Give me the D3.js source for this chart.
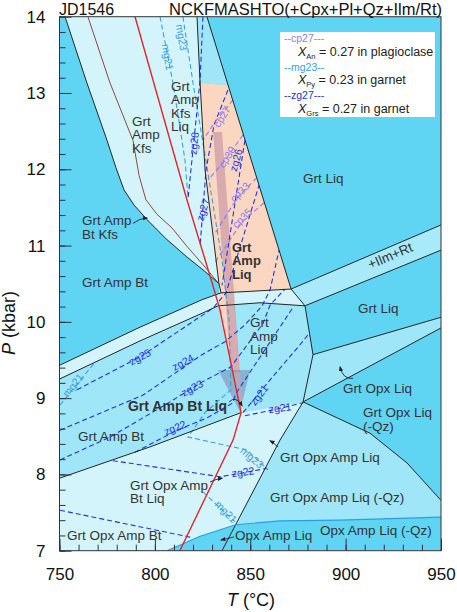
<!DOCTYPE html>
<html>
<head>
<meta charset="utf-8">
<script src="https://cdn.jsdelivr.net/npm/d3@7"></script>
<style>
  html, body { margin: 0; padding: 0; background: #fff; }
  svg { display: block; font-family: Arial, "Liberation Sans", sans-serif; }
</style>
</head>
<body>
<script>
// axis values
const tDomain = [750, 950]
const pDomain = [7, 14]
const tMajor = [750, 800, 850, 900, 950]
const pMajor = [7, 8, 9, 10, 11, 12, 13, 14]

// field polygons, [T (°C), P (kbar)]
const fieldKfs = [[752.9,14],[764.4,13.13],[774.9,12.38],[779.6,12.02],[783.8,11.73],[789.1,11.53],[795.9,11.34],[805.8,11.09],[816.8,10.85],[825.8,10.67],[833.6,10.50],[826.3,11.99],[823.7,13.13],[822.1,14]]
const fieldTopGap = [[822.1,14],[827.3,14],[838.3,13.10],[823.7,13.13]]
const fieldPeach = [[823.7,13.13],[838.3,13.10],[871.4,10.43],[849.9,10.40],[841.0,10.39],[846.2,8.83],[845.2,8.81],[834.1,10.16],[833.6,10.50],[826.3,11.99]]
const fieldStripL = [[750,9.43],[792.2,9.93],[824.7,10.29],[834.7,10.38],[849.9,10.40],[871.4,10.43],[878.7,10.21],[855.1,10.25],[833.1,10.21],[826.3,10.13],[792.2,9.75],[750,9.25]]
const fieldStripR = [[871.4,10.43],[950,11.27],[950,10.94],[878.7,10.21]]
const fieldAmpBt = [[750,9.25],[792.2,9.75],[826.3,10.13],[833.1,10.21],[855.1,10.25],[878.7,10.21],[882.9,9.57],[877.7,8.95],[845.2,8.81],[797.4,8.36],[750,7.95]]
const fieldOpxLow = [[750,7.95],[797.4,8.36],[845.2,8.81],[877.7,8.95],[865.6,8.45],[842.3,7.34],[823.7,7.19],[806.4,7.0],[750,7.0]]
const fieldOpxLiq = [[882.9,9.57],[950,10.06],[950,9.92],[877.7,8.95]]
const fieldOpxAmpQz = [[877.7,8.95],[912.8,8.54],[932.2,8.15],[950,7.66],[950,7.44],[897.1,7.40],[865.6,7.39],[842.3,7.34],[865.6,8.45]]

// P-T path band and arrow head
const ptBand = [[830.5,12.49],[835.2,12.49],[844.6,9.34],[839.9,9.34]]
const ptHead = [[833.1,9.37],[849.9,9.37],[844.6,8.82]]

// boundary lines
const lineK = [[752.9,14],[764.4,13.13],[774.9,12.38],[779.6,12.02],[783.8,11.73],[789.1,11.53],[795.9,11.34],[805.8,11.09],[816.8,10.85],[825.8,10.67],[833.6,10.50]]
const lineBrown = [[764.9,14],[776.5,13.13],[788.5,12.38],[791.7,11.92],[795.3,11.60],[801.1,11.41],[809.0,11.23],[816.8,10.99],[825.2,10.75],[833.6,10.50]]
const lineRed = [[789.6,14],[816.8,11.60],[829.9,10.52],[834.1,10.16],[845.2,8.81],[841.0,8.45],[813.1,7.0]]
const lineA = [[822.1,14],[823.7,13.13],[826.3,11.99],[833.6,10.50],[834.7,10.38]]
const lineB = [[827.3,14],[871.4,10.43]]
const lineC = [[750,9.43],[792.2,9.93],[824.7,10.29],[834.7,10.38],[849.9,10.40],[871.4,10.43],[950,11.27]]
const lineD = [[750,9.25],[792.2,9.75],[826.3,10.13],[833.1,10.21],[855.1,10.25],[878.7,10.21],[950,10.94]]
const lineE = [[871.4,10.43],[878.7,10.21],[882.9,9.57],[877.7,8.95],[865.6,8.45],[835.2,7.0]]
const lineW1 = [[882.9,9.57],[950,10.06]]
const lineW2 = [[877.7,8.95],[950,9.92]]
const lineF = [[877.7,8.95],[912.8,8.54],[932.2,8.15],[950,7.66]]
const lineH = [[750,7.95],[797.4,8.36],[845.2,8.81]]
const lineG = [[806.4,7.0],[823.7,7.19],[842.3,7.34],[865.6,7.39],[897.1,7.40],[950,7.44]]

// isopleths
const zgLines = [
  [[825.2,14],[823.7,13.17],[817.4,11.62]],
  [[838.3,13.04],[831.0,12.58],[826.8,11.99],[823.7,11.0]],
  [[847.2,12.38],[835.2,10.48]],
  [[759.2,9.11],[792.2,9.54],[830.5,10.18],[837.3,10.38],[854.6,11.79]],
  [[750.3,8.58],[793.8,9.04],[824.7,9.57],[836.8,9.74],[847.2,9.96],[856.2,10.21],[860.4,10.42],[865.1,10.94]],
  [[750.3,8.19],[776.5,8.49],[805.3,8.91],[824.7,9.21],[839.9,9.41],[856.7,9.98],[860.4,10.22],[868.2,10.43]],
  [[789.6,8.29],[811.6,8.58],[827.3,8.74],[840.4,8.93],[843.0,9.08],[872.4,10.19]],
  [[846.2,8.81],[860.4,9.24],[876.1,9.70],[880.9,9.85]],
  [[847.2,8.77],[863.0,8.85],[877.7,8.94]],
  [[778.0,8.18],[834.1,7.97],[846.2,8.02],[858.8,8.08]],
  [[750.3,7.53],[820.0,7.17]]
]
const cpLines = [
  [[841.0,12.91],[831.5,12.62],[825.2,12.38]],
  [[846.2,12.45],[836.8,12.12],[827.9,11.86]],
  [[853.5,11.89],[843.6,11.64],[831.0,11.14]],
  [[857.2,11.56],[845.7,11.31],[831.5,10.78]]
]
const mgLines = [
  [[802.7,14],[809.5,13.13],[815.8,12.12],[817.4,11.62]],
  [[814.7,14],[820.0,13.13],[827.3,12.03],[835.2,10.81],[838.9,10.02],[839.9,9.11],[826.3,8.81],[817.4,8.49],[848.3,8.32],[859.3,8.06]],
  [[750.3,8.91],[768.6,9.47]],
  [[825.2,7.77],[842.0,7.38]]
]

// isopleth labels: text, T, P, rotation, kind
const isoLabels = [
  ['zg28', 820.5, 12.34, -84, 'zg'], ['zg27', 825.2, 11.47, -72, 'zg'], ['zg26', 842.5, 12.12, -75, 'zg'],
  ['zg25', 792.2, 9.54, -27, 'zg'], ['zg24', 814.7, 9.47, -28, 'zg'], ['zg23', 819.5, 9.13, -28, 'zg'],
  ['zg22', 810.6, 8.61, -22, 'zg'], ['zg22', 846.2, 8.03, -8, 'zg'], ['zg21', 854.6, 9.04, -52, 'zg'],
  ['zg21', 865.6, 8.87, -8, 'zg'],
  ['cp27', 835.2, 12.69, -58, 'cp'], ['cp30', 837.8, 12.16, -58, 'cp'], ['cp33', 844.6, 11.70, -45, 'cp'],
  ['cp35', 845.7, 11.36, -45, 'cp'],
  ['mg21', 806.7, 13.47, 80, 'mg'], ['mg23', 814.0, 13.73, 80, 'mg'], ['mg21', 757.1, 9.17, -52, 'mg'],
  ['mg23', 850.9, 8.22, 40, 'mg'], ['mg21', 837.3, 7.51, 45, 'mg']
]

// field labels: lines, T, P of first baseline, bold, rotation
const fieldLabels = [
  [['Grt', 'Amp', 'Kfs'], 788.0, 12.57, false],
  [['Grt', 'Amp', 'Kfs', 'Liq'], 808.5, 13.03, false],
  [['Grt Liq'], 877.7, 11.82, false],
  [['Grt Amp', 'Bt Kfs'], 761.8, 11.27, false],
  [['Grt Amp Bt'], 761.8, 10.46, false],
  [['Grt', 'Amp', 'Liq'], 840.4, 10.92, true],
  [['Grt Liq'], 906.5, 10.12, false],
  [['Grt', 'Amp', 'Liq'], 849.9, 9.93, false],
  [['Grt Opx Liq'], 898.6, 9.07, false],
  [['Grt Opx Liq', '(-Qz)'], 909.1, 8.75, false],
  [['Grt Amp Bt Liq'], 785.9, 8.83, true],
  [['Grt Amp Bt'], 759.7, 8.44, false],
  [['Grt Opx Amp Liq'], 865.6, 8.16, false],
  [['Grt Opx Amp', 'Bt Liq'], 787.0, 7.80, false],
  [['Grt Opx Amp Liq (-Qz)'], 860.4, 7.64, false],
  [['Grt Opx Amp Bt'], 753.9, 7.14, false],
  [['Opx Amp Liq'], 842.0, 7.14, false],
  [['Opx Amp Liq (-Qz)'], 886.6, 7.21, false],
  [['+Ilm+Rt'], 924.3, 10.81, false, -23]
]

// arrows: start, control, end
const arrows = [
  [[788.5,11.29],[792,11.36],[795.9,11.36]],
  [[838.9,8.95],[842.5,9.04],[845.7,8.90]],
  [[828.9,7.90],[832.0,7.94],[835.2,7.95]],
  [[903.9,9.26],[898.6,9.24],[897.1,9.41]],
  [[864.5,8.36],[861.9,8.42],[860.4,8.44]],
  [[841.5,7.18],[838,7.16],[834.7,7.14]]
]

const W = 457, H = 612
const x = d3.scaleLinear().domain(tDomain).range([59.5, 441])
const y = d3.scaleLinear().domain(pDomain).range([550.7, 16.7])

const svg = d3.select('body').append('svg').attr('width', W).attr('height', H)

svg.append('clipPath').attr('id', 'plot')
  .append('rect').attr('x', x(750)).attr('y', y(14)).attr('width', x(950) - x(750)).attr('height', y(7) - y(14))

const g = svg.append('g').attr('clip-path', 'url(#plot)')
const line = d3.line().x(d => x(d[0])).y(d => y(d[1]))

const colBright = '#5fd5f3', colMed = '#9fe6f8', colLight = '#d4f4fc'

g.append('rect').attr('x', x(750)).attr('y', y(14)).attr('width', x(950) - x(750)).attr('height', y(7) - y(14)).attr('fill', colBright)

const polys = [
  [fieldKfs, colLight], [fieldTopGap, colMed], [fieldStripL, colLight], [fieldStripR, '#a9eafa'],
  [fieldAmpBt, colMed], [fieldOpxLow, colLight], [fieldOpxLiq, colMed], [fieldOpxAmpQz, colMed],
  [fieldPeach, '#fbd7c2']
]
polys.forEach(([pts, c]) => g.append('path').attr('d', line(pts) + 'Z').attr('fill', c))

g.append('path').attr('d', line(ptBand) + 'Z').attr('fill', '#a2608e').attr('opacity', 0.38)
g.append('path').attr('d', line(ptHead) + 'Z').attr('fill', '#7f8fb8').attr('opacity', 0.6)

// dashed isopleths
const dashed = (arr, col) => arr.forEach(pts => g.append('path').attr('d', line(pts))
  .attr('fill', 'none').attr('stroke', col).attr('stroke-width', 1.1).attr('stroke-dasharray', '5,3'))
dashed(mgLines, '#3aa0d8')
dashed(zgLines, '#2233dd')
dashed(cpLines, '#8d7bef')

// solid boundaries
const solid = (pts, col, w) => g.append('path').attr('d', line(pts)).attr('fill', 'none').attr('stroke', col).attr('stroke-width', w)
;[lineK, lineA, lineB, lineC, lineD, lineE, lineW1, lineW2, lineF, lineH].forEach(l => solid(l, '#262626', 1))
solid(lineBrown, '#8a4a3c', 1)
solid(lineG, '#2a9ede', 1.2)
solid(lineRed, '#e5232b', 1.4)

// isopleth labels
const isoCol = {zg: '#2233dd', cp: '#8d7bef', mg: '#3aa0d8'}
isoLabels.forEach(([t, T, P, r, k]) => {
  svg.append('text').attr('transform', `translate(${x(T)},${y(P)}) rotate(${r})`)
    .attr('text-anchor', 'middle').attr('dy', '0.35em').attr('font-size', 10.5)
    .attr('fill', isoCol[k]).text(t)
})

// arrows
svg.append('defs').append('marker').attr('id', 'ah').attr('viewBox', '0 0 10 10')
  .attr('refX', 8).attr('refY', 5).attr('markerWidth', 6).attr('markerHeight', 6).attr('orient', 'auto')
  .append('path').attr('d', 'M0,1L10,5L0,9Z').attr('fill', '#222')
arrows.forEach(([a, c, b]) => {
  svg.append('path').attr('d', `M${x(a[0])},${y(a[1])}Q${x(c[0])},${y(c[1])} ${x(b[0])},${y(b[1])}`)
    .attr('fill', 'none').attr('stroke', '#222').attr('stroke-width', 0.9).attr('marker-end', 'url(#ah)')
})

// field labels, one text per line
fieldLabels.forEach(([lines, T, P, bold, rot]) => {
  const size = bold ? (lines.length > 1 ? 13 : 14) : 13.5
  lines.forEach((s, i) => {
    const t = svg.append('text').attr('font-size', size).attr('fill', '#333')
      .attr('font-weight', bold ? 'bold' : 'normal').text(s)
    if (rot) t.attr('text-anchor', 'middle').attr('transform', `translate(${x(T)},${y(P)}) rotate(${rot})`)
    else t.attr('x', x(T)).attr('y', y(P) + i * 13.6)
  })
})

// legend
const lg = svg.append('g')
lg.append('rect').attr('x', 280).attr('y', 32).attr('width', 155).attr('height', 85).attr('fill', '#fff')
const legendRows = [['--cp27---', '#8d7bef', 'An', ' = 0.27 in plagioclase'],
  ['--mg23--', '#3aa0d8', 'Py', ' = 0.23 in garnet'],
  ['--zg27---', '#2233dd', 'Grs', ' = 0.27 in garnet']]
legendRows.forEach(([k, c, sub, rest], i) => {
  const y0 = 42 + i * 28.5
  lg.append('text').attr('x', 284).attr('y', y0).attr('font-size', 10.5).attr('fill', c).text(k)
  const t = lg.append('text').attr('x', 298).attr('y', y0 + 13.5).attr('font-size', 12.5).attr('fill', '#222')
  t.append('tspan').attr('font-style', 'italic').text('X')
  t.append('tspan').attr('font-size', 7.5).attr('dy', 3).text(sub)
  t.append('tspan').attr('dy', -3).text(rest)
})

// axes
const ax = svg.append('g').attr('font-size', 17)
const pMinor = d3.range(7, 14.001, 0.2)
const tMinor = d3.range(750, 950.001, 10)
ax.append('g').attr('transform', `translate(${x(750)},0)`)
  .call(d3.axisLeft(y).tickValues(pMinor).tickSizeInner(-6).tickSizeOuter(0).tickFormat(''))
ax.append('g').attr('transform', `translate(${x(750)},0)`)
  .call(d3.axisLeft(y).tickValues(pMajor).tickSizeInner(-12).tickSizeOuter(0).tickPadding(14).tickFormat(d3.format('d')))
ax.append('g').attr('transform', `translate(0,${y(7)})`)
  .call(d3.axisBottom(x).tickValues(tMinor).tickSizeInner(-6).tickSizeOuter(0).tickFormat(''))
ax.append('g').attr('transform', `translate(0,${y(7)})`)
  .call(d3.axisBottom(x).tickValues(tMajor).tickSizeInner(-12).tickSizeOuter(0).tickPadding(17).tickFormat(d3.format('d')))
ax.selectAll('.domain').remove()
ax.selectAll('line').attr('stroke', '#333')
ax.selectAll('text').attr('fill', '#111').attr('font-family', 'Arial, "Liberation Sans", sans-serif').attr('font-size', 17)

svg.append('rect').attr('x', x(750)).attr('y', y(14)).attr('width', x(950) - x(750)).attr('height', y(7) - y(14))
  .attr('fill', 'none').attr('stroke', '#333').attr('stroke-width', 1)

// titles
svg.append('text').attr('x', 59).attr('y', 14.5).attr('font-size', 16).attr('fill', '#111').text('JD1546')
svg.append('text').attr('x', 442).attr('y', 14.5).attr('text-anchor', 'end').attr('font-size', 16.5).attr('fill', '#111')
  .text('NCKFMASHTO(+Cpx+Pl+Qz+Ilm/Rt)')
const xt = svg.append('text').attr('x', 251).attr('y', 606).attr('text-anchor', 'middle').attr('font-size', 18).attr('fill', '#111')
xt.append('tspan').attr('font-style', 'italic').text('T')
xt.append('tspan').text(' (°C)')
const yt = svg.append('text').attr('transform', 'translate(15,323) rotate(-90)').attr('text-anchor', 'middle').attr('font-size', 18).attr('fill', '#111')
yt.append('tspan').attr('font-style', 'italic').text('P')
yt.append('tspan').text(' (kbar)')
</script>
</body>
</html>
